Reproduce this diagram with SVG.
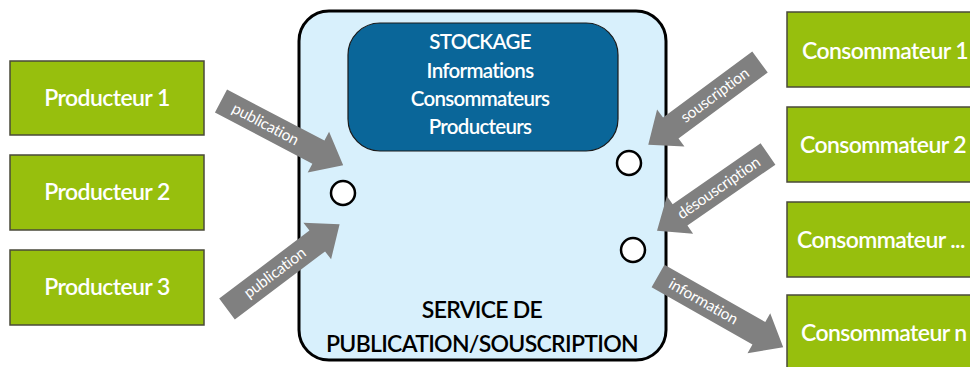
<svg xmlns="http://www.w3.org/2000/svg" width="970" height="367" viewBox="0 0 970 367">
  <style>
    .box { fill: #97BF0D; stroke: #4a4a3a; stroke-width: 1.5; }
    .boxlabel { font-family: Lato, "Open Sans", sans-serif; font-size: 23px; font-weight: 600; letter-spacing: -0.6px; fill: #ffffff; }
    .service { fill: #D8F0FC; stroke: #000000; stroke-width: 3; }
    .store { fill: #0A6699; stroke: #1a1a1a; stroke-width: 1.2; }
    .storelabel { font-family: Lato, "Open Sans", sans-serif; font-size: 20.5px; font-weight: 600; letter-spacing: -0.7px; fill: #ffffff; text-anchor: middle; }
    .title { font-family: Lato, "Open Sans", sans-serif; font-size: 23px; font-weight: 600; letter-spacing: -0.7px; fill: #000000; text-anchor: middle; }
    .port { fill: #ffffff; stroke: #000000; stroke-width: 2.5; }
    .arrow { fill: #808080; }
    .arrowlabel { font-family: Lato, "Open Sans", sans-serif; font-size: 15.5px; letter-spacing: -0.2px; fill: #ffffff; text-anchor: middle; }
  </style>

  <!-- central publish/subscribe service -->
  <g id="service">
    <rect class="service" x="299" y="11" width="367" height="349" rx="30" ry="30"/>
    <text class="title" x="482" y="318">SERVICE DE</text>
    <text class="title" x="482" y="352">PUBLICATION/SOUSCRIPTION</text>
  </g>

  <g id="stockage">
    <rect class="store" x="348" y="23" width="270" height="128" rx="32" ry="32"/>
    <text class="storelabel" x="480" y="49">STOCKAGE</text>
    <text class="storelabel" x="480" y="78">Informations</text>
    <text class="storelabel" x="480" y="106">Consommateurs</text>
    <text class="storelabel" x="480" y="134">Producteurs</text>
  </g>

  <!-- ports of the service -->
  <g id="ports">
    <circle class="port" cx="343" cy="193" r="12"/>
    <circle class="port" cx="629" cy="163" r="12"/>
    <circle class="port" cx="633" cy="250" r="12"/>
  </g>

  <!-- producers -->
  <g id="producteur1">
    <rect class="box" x="10" y="61" width="194" height="74"/>
    <text class="boxlabel" x="107" y="106" text-anchor="middle">Producteur 1</text>
  </g>
  <g id="producteur2">
    <rect class="box" x="10" y="155" width="194" height="75"/>
    <text class="boxlabel" x="107" y="200" text-anchor="middle">Producteur 2</text>
  </g>
  <g id="producteur3">
    <rect class="box" x="10" y="250" width="194" height="75"/>
    <text class="boxlabel" x="107" y="295" text-anchor="middle">Producteur 3</text>
  </g>

  <!-- consumers -->
  <g id="consommateur1">
    <rect class="box" x="787" y="12" width="200" height="75"/>
    <text class="boxlabel" x="802" y="59">Consommateur 1</text>
  </g>
  <g id="consommateur2">
    <rect class="box" x="787" y="107" width="200" height="75"/>
    <text class="boxlabel" x="800" y="153">Consommateur 2</text>
  </g>
  <g id="consommateur3">
    <rect class="box" x="787" y="202" width="200" height="75"/>
    <text class="boxlabel" x="797" y="248">Consommateur ...</text>
  </g>
  <g id="consommateurn">
    <rect class="box" x="787" y="295" width="200" height="80"/>
    <text class="boxlabel" x="801" y="341">Consommateur n</text>
  </g>

  <!-- block arrows -->
  <g id="connectors">
    <g transform="translate(221,101) rotate(27.7)">
      <path class="arrow" d="M0,-13 H110 V-23 L138,0 L110,23 V13 H0 Z"/>
      <text class="arrowlabel" x="50" y="5">publication</text>
    </g>
    <g transform="translate(227,309) rotate(-37)">
      <path class="arrow" d="M0,-13 H113 V-23 L141,0 L113,23 V13 H0 Z"/>
      <text class="arrowlabel" x="60" y="5">publication</text>
    </g>
    <g transform="translate(760,62) rotate(143.5)">
      <path class="arrow" d="M0,-13 H111 V-23 L139,0 L111,23 V13 H0 Z"/>
      <text class="arrowlabel" transform="translate(56,0) rotate(180)" y="5">souscription</text>
    </g>
    <g transform="translate(768,154) rotate(145.3)">
      <path class="arrow" d="M0,-13 H107 V-23 L135,0 L107,23 V13 H0 Z"/>
      <text class="arrowlabel" transform="translate(60,0) rotate(180)" y="5">désouscription</text>
    </g>
    <g transform="translate(658,276) rotate(29.6)">
      <path class="arrow" d="M0,-13 H116 V-23 L144,0 L116,23 V13 H0 Z"/>
      <text class="arrowlabel" x="52" y="5">information</text>
    </g>
  </g>
</svg>
